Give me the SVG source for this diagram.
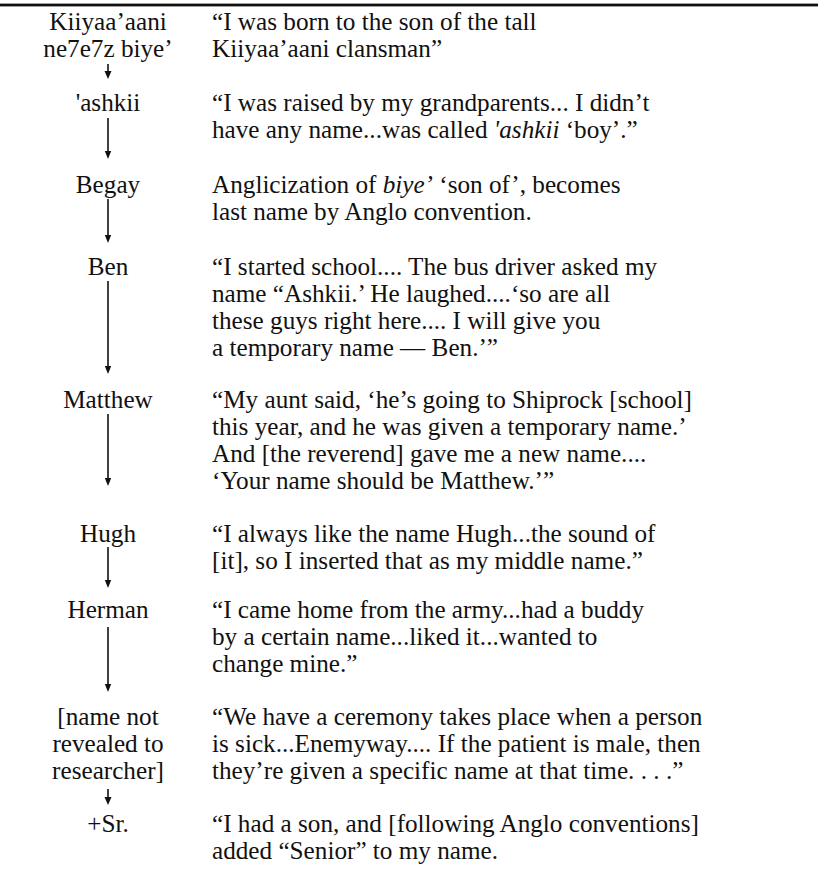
<svg xmlns="http://www.w3.org/2000/svg" width="818" height="892" viewBox="0 0 818 892">
<style>
text{font-family:"Liberation Serif","Times New Roman",serif;font-size:25.2px;fill:#111}
.l{text-anchor:middle}
.c line{stroke:#111;stroke-width:1.6}
.c path{fill:#111}
</style>
<rect width="818" height="892" fill="#fff"/>
<rect x="0" y="3.6" width="818" height="2.8" fill="#111"/>

<g class="c" id="connectors">
<line x1="108" y1="64" x2="108" y2="74"/>
<line x1="108" y1="118" x2="108" y2="155"/>
<line x1="108" y1="199" x2="108" y2="239"/>
<line x1="108" y1="281" x2="108" y2="370"/>
<line x1="108" y1="414" x2="108" y2="482"/>
<line x1="108" y1="547" x2="108" y2="584"/>
<line x1="108" y1="627" x2="108" y2="688"/>
<line x1="108" y1="789" x2="108" y2="799"/>
<path d="M104.5,71 L108,79 L111.5,71 z"/>
<path d="M104.8,151 L108,159 L111.2,151 z"/>
<path d="M104.8,235 L108,243 L111.2,235 z"/>
<path d="M104.8,366 L108,374 L111.2,366 z"/>
<path d="M104.8,478 L108,486 L111.2,478 z"/>
<path d="M104.8,580 L108,588 L111.2,580 z"/>
<path d="M104.8,684 L108,692 L111.2,684 z"/>
<path d="M104.5,797 L108,805 L111.5,797 z"/>
</g>

<g id="n1">
<text class="l" x="108" y="30">Kiiyaa’aani</text>
<text class="l" x="108" y="57">ne7e7z biye’</text>
<text x="212" y="30">“I was born to the son of the tall</text>
<text x="212" y="57">Kiiyaa’aani clansman”</text>
</g>
<g id="n2">
<text class="l" x="108" y="111">'ashkii</text>
<text x="212" y="111">“I was raised by my grandparents... I didn’t</text>
<text x="212" y="138">have any name...was called <tspan font-style="italic">'ashkii</tspan> ‘boy’.”</text>
</g>
<g id="n3">
<text class="l" x="108" y="193">Begay</text>
<text x="212" y="193">Anglicization of <tspan font-style="italic">biye’</tspan> ‘son of’, becomes</text>
<text x="212" y="220">last name by Anglo convention.</text>
</g>
<g id="n4">
<text class="l" x="108" y="275">Ben</text>
<text x="212" y="275">“I started school.... The bus driver asked my</text>
<text x="212" y="302">name “Ashkii.’ He laughed....‘so are all</text>
<text x="212" y="329">these guys right here.... I will give you</text>
<text x="212" y="356">a temporary name — Ben.’”</text>
</g>
<g id="n5">
<text class="l" x="108" y="408">Matthew</text>
<text x="212" y="408">“My aunt said, ‘he’s going to Shiprock [school]</text>
<text x="212" y="435">this year, and he was given a temporary name.’</text>
<text x="212" y="462">And [the reverend] gave me a new name....</text>
<text x="212" y="489">‘Your name should be Matthew.’”</text>
</g>
<g id="n6">
<text class="l" x="108" y="542">Hugh</text>
<text x="212" y="542">“I always like the name Hugh...the sound of</text>
<text x="212" y="569">[it], so I inserted that as my middle name.”</text>
</g>
<g id="n7">
<text class="l" x="108" y="618">Herman</text>
<text x="212" y="618">“I came home from the army...had a buddy</text>
<text x="212" y="645">by a certain name...liked it...wanted to</text>
<text x="212" y="672">change mine.”</text>
</g>
<g id="n8">
<text class="l" x="108" y="725">[name not</text>
<text class="l" x="108" y="752">revealed to</text>
<text class="l" x="108" y="779">researcher]</text>
<text x="212" y="725">“We have a ceremony takes place when a person</text>
<text x="212" y="752">is sick...Enemyway.... If the patient is male, then</text>
<text x="212" y="779">they’re given a specific name at that time. . . .”</text>
</g>
<g id="n9">
<text class="l" x="108" y="832">+Sr.</text>
<text x="212" y="832">“I had a son, and [following Anglo conventions]</text>
<text x="212" y="859">added “Senior” to my name.</text>
</g>
</svg>
